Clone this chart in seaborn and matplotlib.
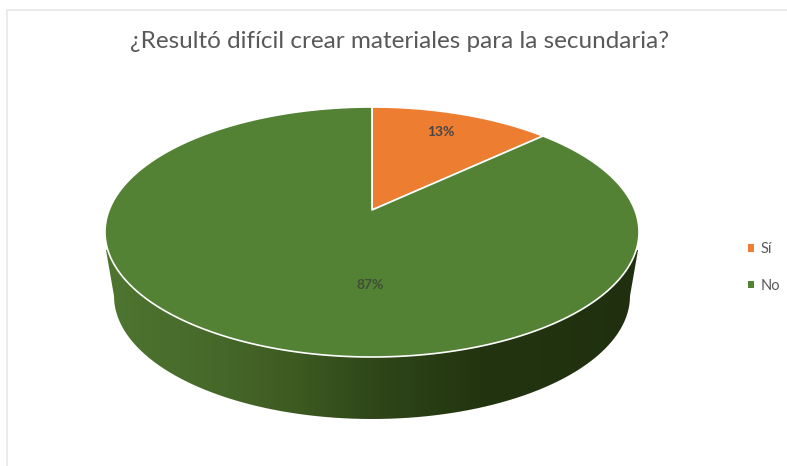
import numpy as np
import matplotlib
matplotlib.use("Agg")
import matplotlib.pyplot as plt
from matplotlib.colors import LinearSegmentedColormap
from matplotlib.patches import PathPatch, Patch
from matplotlib.path import Path
import seaborn as sns

categories = ["Sí", "No"]
shares = [13, 87]
slice_colors = ["#ED7D31", "#548235"]
title_text = "¿Resultó difícil crear materiales para la secundaria?"

sns.set_theme(style="white")
plt.rcParams["font.family"] = ["Lato", "DejaVu Sans"]

W, H = 787, 466
fig = plt.figure(figsize=(W / 100, H / 100), dpi=100)
ax = fig.add_axes([0, 0, 1, 1])
ax.set_xlim(0, W)
ax.set_ylim(H, 0)
ax.axis("off")

# Projective view of a flat disc: the near edge is enlarged, so the hub sits above the ellipse centre.
HUB_X, HUB_Y = 372, 210
BACK, FRONT = 103, 147
TILT = (FRONT - BACK) / (FRONT + BACK)
DEPTH = BACK * (1 + TILT)
SPREAD = 267 * np.sqrt(1 - TILT ** 2)


def project(angle, r=1.0):
    """Map a clockwise angle from twelve o'clock and radius to canvas position."""
    u, v = r * np.sin(angle), r * np.cos(angle)
    w = 1 + TILT * v
    return HUB_X + SPREAD * u / w, HUB_Y - DEPTH * v / w


# Side wall: swept silhouette of the rim, shaded with a horizontal gradient.
cx, cy, a = 372, 232, 266
bcx, bcy, ba, bb = 372, 296, 258, 123
left_x, right_x = cx - a, cx + a
sweep = np.linspace(np.pi, 2 * np.pi, 181)
wall_x = np.concatenate([[left_x], bcx + ba * np.cos(sweep), [right_x]])
wall_y = np.concatenate([[cy + 18], bcy - bb * np.sin(sweep), [cy + 18]])
wall_patch = PathPatch(Path(np.column_stack([wall_x, wall_y])), facecolor="none", edgecolor="none")
ax.add_patch(wall_patch)
wall_cmap = LinearSegmentedColormap.from_list(
    "wall",
    [(0.0, "#4E7530"), (0.2, "#46692A"), (0.35, "#3E5B22"),
     (0.5, "#2F4719"), (0.7, "#233510"), (1.0, "#20300F")],
)
shade = ax.imshow(
    np.linspace(0, 1, 256)[None, :],
    cmap=wall_cmap,
    extent=(left_x, right_x, 430, 230),
    aspect="auto",
    zorder=1,
)
shade.set_clip_path(wall_patch)
ax.set_xlim(0, W)
ax.set_ylim(H, 0)

# Top face: one polygon per slice, starting at twelve o'clock and running clockwise.
edges = np.cumsum([0] + shares) / sum(shares) * 2 * np.pi
for start, stop, color in zip(edges[:-1], edges[1:], slice_colors):
    arc = np.linspace(start, stop, 240)
    xs, ys = project(arc)
    ax.fill(
        np.r_[HUB_X, xs], np.r_[HUB_Y, ys],
        facecolor=color, edgecolor="white", linewidth=1.2, zorder=3,
        joinstyle="round",
    )

# Percentage labels.
ax.text(441, 132, f"{shares[0]}%", ha="center", va="center",
        fontsize=10, fontweight="bold", color="#464646", zorder=4)
ax.text(370, 285, f"{shares[1]}%", ha="center", va="center",
        fontsize=10, fontweight="bold", color="#3F4F38", zorder=4)

ax.text(400, 41, title_text, ha="center", va="center", fontsize=17.5, color="#595959")

# Outer chart border, visible along the top and left only.
ax.plot([7, 7, W], [H, 10, 10], color="#E8E8E8", linewidth=1.2, zorder=0)

handles = [Patch(facecolor=c, edgecolor="none", label=n) for c, n in zip(slice_colors, categories)]
ax.legend(
    handles=handles, loc="center left", bbox_to_anchor=(748 / W, 1 - 267.5 / H),
    frameon=False, fontsize=10.5, labelcolor="#595959", handlelength=0.42,
    handleheight=0.42, handletextpad=0.42, labelspacing=1.55,
    borderpad=0, borderaxespad=0,
)

fig.savefig("out.png", dpi=100, facecolor="white")
